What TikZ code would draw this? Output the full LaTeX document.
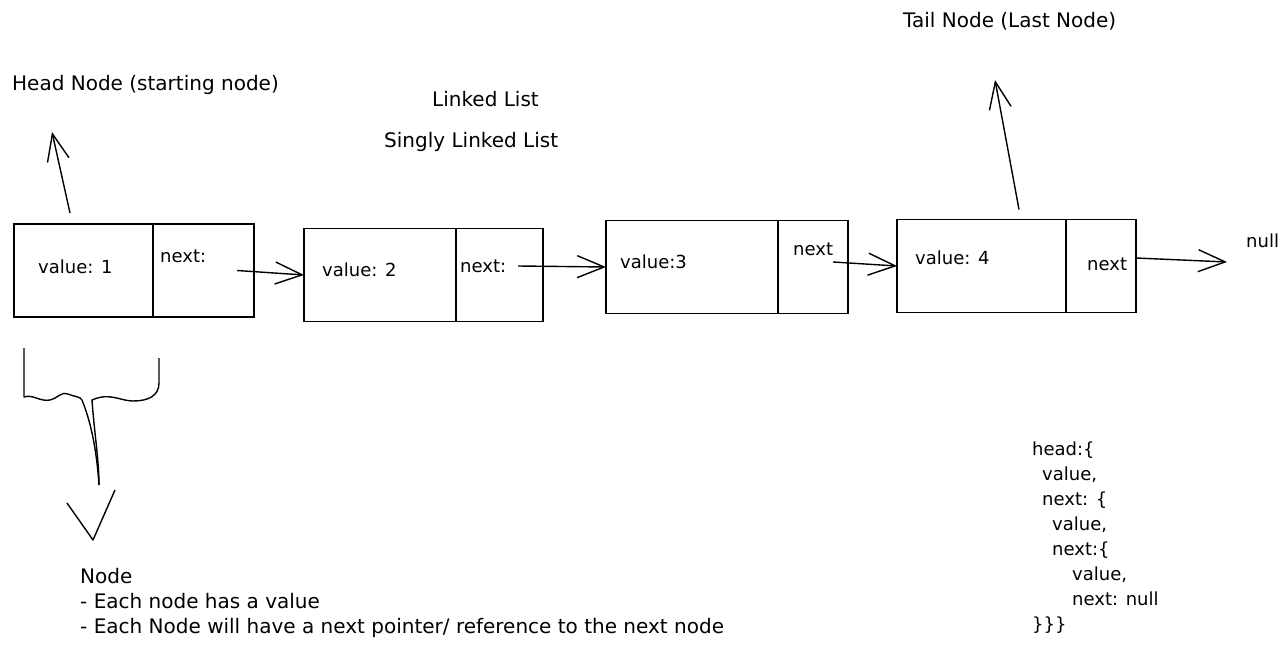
\documentclass[tikz,border=0pt]{standalone}
\usepackage{fontspec}
\setmainfont{DejaVu Sans}
\usetikzlibrary{arrows.meta,positioning}

\begin{document}
\begin{tikzpicture}[x=1pt,y=-1pt]
\tikzset{
    cell/.style={draw, line width=1.4pt, minimum width=#1, minimum height=93pt, inner sep=0pt, outer sep=0pt},
    lbl/.style={inner sep=0pt, anchor=west, font=\fontsize{18pt}{25pt}\selectfont},
    note/.style={lbl, font=\fontsize{20pt}{25pt}\selectfont},
    ptr/.style={line width=1.4pt, -{Straight Barb[length=27pt,width=22pt,line width=1.4pt]}}
}
\useasboundingbox (0,0) rectangle (1287,671);
% Titles
\node[note] (title) at (432,99) {Linked List};
\node[note] (subtitle) at (384,142) {Singly Linked List};
\node[note] (headtxt) at (12,85) {Head Node (starting node)};
\node[note] (tailtxt) at (903,21) {Tail Node (Last Node)};
% List nodes
\node[cell=139pt] (v1) at (83.5,270.5){};
\node[cell=101pt, right=0pt of v1] (n1){};
\node[cell=152pt] (v2) at (380,275){};
\node[cell=87pt, right=0pt of v2] (n2){};
\node[cell=172pt] (v3) at (692,267){};
\node[cell=70pt, right=0pt of v3] (n3){};
\node[cell=169pt] (v4) at (981.5,266){};
\node[cell=70pt, right=0pt of v4] (n4){};
\node[lbl] (vt1) at (38,267) {value: 1};
\node[lbl] (nt1) at (160,256) {next:};
\node[lbl] (vt2) at (322,270) {value: 2};
\node[lbl] (nt2) at (460,266) {next:};
\node[lbl] (vt3) at (620,262) {value:3};
\node[lbl] (nt3) at (793,249) {next};
\node[lbl] (vt4) at (915,258) {value: 4};
\node[lbl] (nt4) at (1087,264) {next};
\node[lbl] (nulltxt) at (1246,241) {null};
% Pointers
\coordinate (nullend) at (1227,262);
\coordinate (headtip) at (52,132);
\coordinate (tailtip) at (995,80);
\draw[ptr] ([xshift=-17pt]n1.east) -- (v2.west);
\draw[ptr] ([xshift=-25pt,yshift=9pt]n2.east) -- (v3.west);
\draw[ptr] ([xshift=-15pt,yshift=5pt]n3.east) -- (v4.west);
\draw[ptr] ([yshift=8pt]n4.east) -- (nullend);
\draw[ptr] ([xshift=-13.5pt,yshift=11pt]v1.north) -- (headtip);
\draw[ptr] ([xshift=37.5pt,yshift=10pt]v4.north) -- (tailtip);
% Brace under the first node
\draw[line width=1.4pt, line join=round] (24,348) -- (24,397)
    .. controls (33,394) and (40,402) .. (50,400)
    .. controls (58,398) and (62,391) .. (68,394)
    .. controls (74,397) and (80,396) .. (82,400)
    .. controls (88,415) and (96,440) .. (99,485);
\draw[line width=1.4pt, line join=round] (159,358) -- (159,383)
    .. controls (159,396) and (148,401) .. (133,401)
    .. controls (120,401) and (110,392) .. (92,400)
    .. controls (94,430) and (99,460) .. (99,485);
\draw[line width=1.4pt, line join=round] (67,503) -- (93,540) -- (115,490);
% Notes
\node[note, anchor=north west, align=left] (notes) at (80,568)
    {Node\\- Each node has a value\\- Each Node will have a next pointer/ reference to the next node};
\node[lbl, anchor=north west, align=left] (code) at (1032,442)
    {head:\{\\
     \hspace*{10pt}value,\\
     \hspace*{10pt}next: \{\\
     \hspace*{20pt}value,\\
     \hspace*{20pt}next:\{\\
     \hspace*{40pt}value,\\
     \hspace*{40pt}next: null\\
     \}\}\}};
\end{tikzpicture}
\end{document}
